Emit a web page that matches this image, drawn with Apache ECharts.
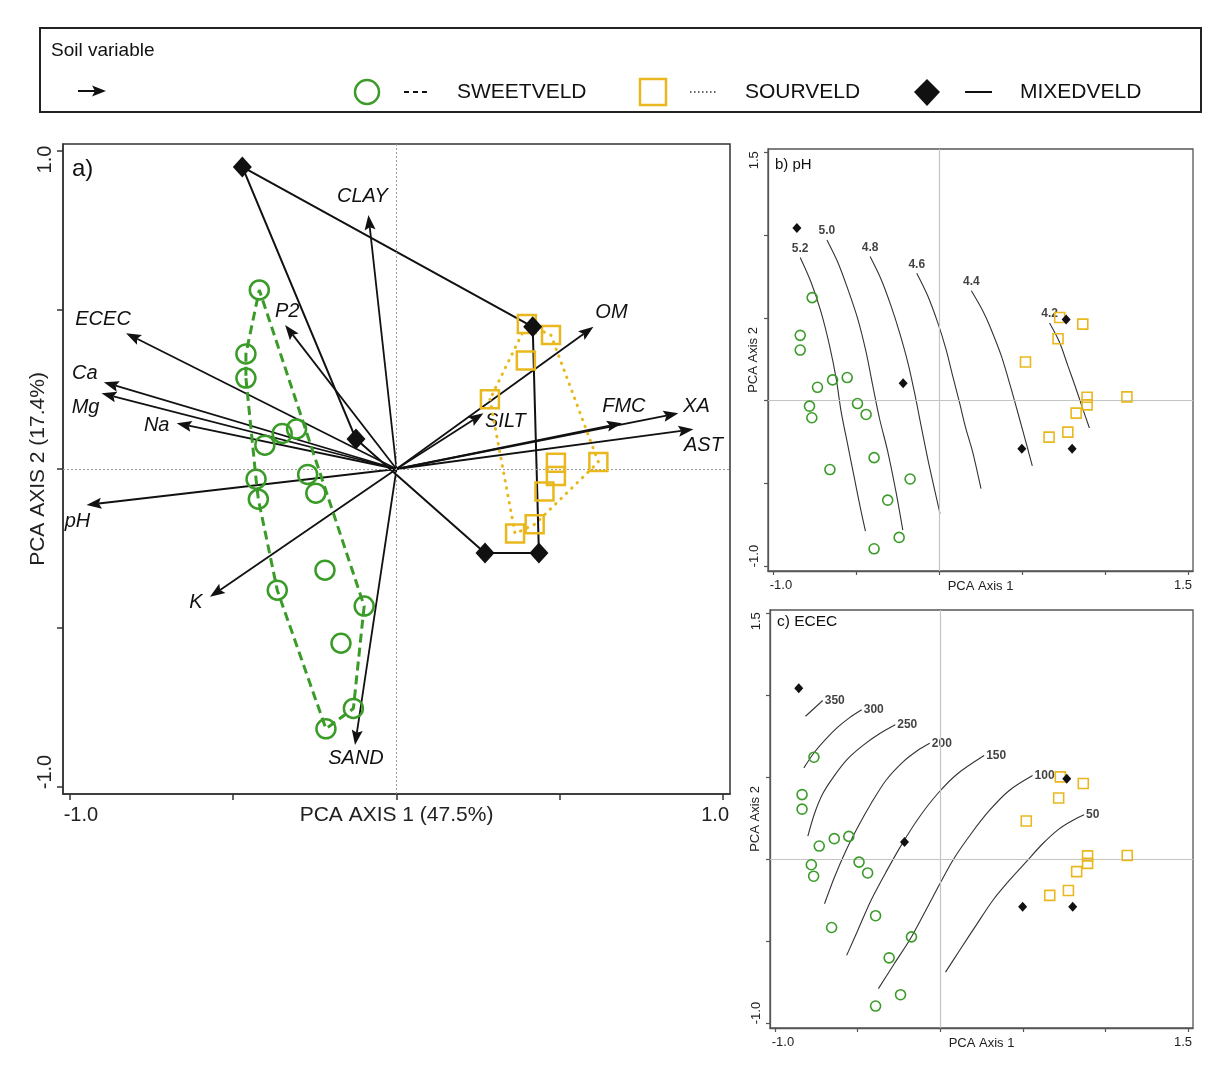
<!DOCTYPE html>
<html><head><meta charset="utf-8">
<script src="https://cdn.jsdelivr.net/npm/echarts@6/dist/echarts.min.js"></script>
<style>html,body{margin:0;padding:0;background:#fff}#c{width:1229px;height:1077px}</style>
</head><body><div id="c"></div>
<script>
// ---------- Panel a: soil variable vectors ----------
const variableNames = ['CLAY','ECEC','P2','Ca','Mg','Na','pH','K','SAND','OM','SILT','FMC','XA','AST'];
const variableAxis1 = [-0.086,-0.828,-0.341,-0.896,-0.903,-0.673,-0.949,-0.571,-0.127,0.603,0.266,0.690,0.863,0.909];
const variableAxis2 = [0.799,0.427,0.453,0.273,0.238,0.144,-0.113,-0.402,-0.868,0.447,0.175,0.144,0.175,0.125];

// ---------- Panel a: site scores ----------
const sweetAxis1 = [-0.420,-0.461,-0.461,-0.306,-0.350,-0.403,-0.430,-0.423,-0.272,-0.247,-0.219,-0.365,-0.099,-0.170,-0.132,-0.216];
const sweetAxis2 = [0.563,0.362,0.286,0.126,0.112,0.075,-0.032,-0.095,-0.017,-0.076,-0.318,-0.381,-0.431,-0.548,-0.753,-0.817];
const sourAxis1 = [0.399,0.473,0.396,0.286,0.618,0.488,0.488,0.453,0.423,0.363];
const sourAxis2 = [0.456,0.421,0.341,0.219,0.022,0.020,-0.022,-0.071,-0.174,-0.203];
const mixedAxis1 = [-0.472,0.417,0.436,0.271,-0.124];
const mixedAxis2 = [0.950,0.447,-0.264,-0.264,0.094];

// ---------- Panels b, c: site scores ----------
const siteSweetAxis1 = [-0.764,-0.836,-0.836,-0.732,-0.641,-0.553,-0.780,-0.766,-0.491,-0.439,-0.391,-0.657,-0.174,-0.309,-0.240,-0.391];
const siteSweetAxis2 = [0.622,0.394,0.305,0.080,0.125,0.139,-0.034,-0.104,-0.018,-0.084,-0.345,-0.417,-0.474,-0.602,-0.827,-0.896];
const siteSourAxis1 = [0.727,0.866,0.717,0.521,0.892,1.132,0.892,0.826,0.776,0.663];
const siteSourAxis2 = [0.502,0.462,0.373,0.233,0.020,0.022,-0.026,-0.076,-0.191,-0.221];
const siteMixedAxis1 = [-0.856,-0.216,0.766,0.499,0.802];
const siteMixedAxis2 = [1.042,0.104,0.490,-0.291,-0.291];

// ---------- Panel b: pH isolines ----------
const phLevels = ['5.2','5.0','4.8','4.6','4.4','4.2'];
const ph52 = [[-0.836,0.864],[-0.770,0.713],[-0.710,0.533],[-0.659,0.331],[-0.619,0.131],[-0.589,-0.070],[-0.549,-0.271],[-0.509,-0.472],[-0.473,-0.652],[-0.443,-0.789]];
const ph50 = [[-0.675,0.970],[-0.609,0.834],[-0.549,0.673],[-0.489,0.492],[-0.439,0.292],[-0.399,0.090],[-0.358,-0.110],[-0.308,-0.311],[-0.259,-0.552],[-0.218,-0.783]];
const ph48 = [[-0.415,0.870],[-0.349,0.733],[-0.289,0.572],[-0.238,0.412],[-0.188,0.231],[-0.148,0.051],[-0.108,-0.151],[-0.068,-0.351],[-0.028,-0.532],[0.006,-0.683]];
const ph46 = [[-0.134,0.769],[-0.068,0.633],[-0.008,0.472],[0.042,0.311],[0.082,0.151],[0.123,-0.010],[0.162,-0.170],[0.203,-0.311],[0.253,-0.532]];
const ph44 = [[0.195,0.663],[0.265,0.540],[0.305,0.452],[0.375,0.271],[0.435,0.070],[0.485,-0.110],[0.529,-0.271],[0.562,-0.395]];
const ph42 = [[0.666,0.468],[0.726,0.352],[0.776,0.211],[0.826,0.070],[0.866,-0.050],[0.906,-0.166]];
const phLines = [ph52, ph50, ph48, ph46, ph44, ph42];

// ---------- Panel c: ECEC isolines ----------
const ececLevels = ['350','300','250','200','150','100','50'];
const ecec350 = [[-0.815,0.872],[-0.711,0.968]];
const ecec300 = [[-0.825,0.557],[-0.761,0.652],[-0.691,0.734],[-0.620,0.805],[-0.550,0.862],[-0.475,0.911]];
const ecec250 = [[-0.801,0.140],[-0.761,0.277],[-0.711,0.399],[-0.640,0.510],[-0.560,0.612],[-0.469,0.693],[-0.368,0.765],[-0.272,0.820]];
const ecec200 = [[-0.700,-0.272],[-0.640,-0.110],[-0.570,0.053],[-0.499,0.195],[-0.419,0.338],[-0.329,0.480],[-0.228,0.591],[-0.137,0.663],[-0.063,0.707]];
const ecec150 = [[-0.566,-0.587],[-0.499,-0.435],[-0.419,-0.252],[-0.328,-0.079],[-0.228,0.098],[-0.127,0.256],[-0.016,0.399],[0.105,0.521],[0.266,0.632]];
const ecec100 = [[-0.374,-0.790],[-0.278,-0.638],[-0.175,-0.476],[-0.045,-0.232],[0.076,-0.008],[0.187,0.155],[0.298,0.297],[0.418,0.419],[0.559,0.510]];
const ecec50 = [[0.032,-0.689],[0.117,-0.557],[0.217,-0.404],[0.318,-0.252],[0.418,-0.130],[0.519,-0.018],[0.620,0.094],[0.720,0.185],[0.801,0.236],[0.871,0.271]];
const ececLines = [ecec350, ecec300, ecec250, ecec200, ecec150, ecec100, ecec50];

// ---------- styling ----------
const GREEN = '#3a9b28', GOLD = '#e9b81e', BLACK = '#111111';
const FONT = '"Liberation Sans", Arial, sans-serif';
// label offsets (px) of vector names relative to arrow tips
const labelOffsets = {CLAY:[-6,-18],ECEC:[-23,-14],P2:[2,-14],Ca:[-19,-9],Mg:[-16,14],Na:[-20,2],pH:[-9,17],K:[-14,6],SAND:[1,13],OM:[18,-14],SILT:[22,8],FMC:[2,-17],XA:[18,-7],AST:[10,16]};

const zip = (a, b) => a.map((v, i) => [v, b[i]]);
function convexHull(xs, ys) {
  const pts = zip(xs, ys).sort((a, b) => a[0] - b[0] || a[1] - b[1]);
  const cross = (o, a, b) => (a[0]-o[0])*(b[1]-o[1]) - (a[1]-o[1])*(b[0]-o[0]);
  const lower = [];
  for (const p of pts) { while (lower.length >= 2 && cross(lower[lower.length-2], lower[lower.length-1], p) <= 0) lower.pop(); lower.push(p); }
  const upper = [];
  for (let i = pts.length - 1; i >= 0; i--) { const p = pts[i]; while (upper.length >= 2 && cross(upper[upper.length-2], upper[upper.length-1], p) <= 0) upper.pop(); upper.push(p); }
  upper.pop(); lower.pop();
  const h = lower.concat(upper); h.push(h[0]); return h;
}

function richLabel(size, pad) {
  return {fontSize: size, fontFamily: FONT, color: '#222', padding: pad};
}

function mainXAxis() {
  return {
    gridIndex: 0, type: 'value', min: -1.021, max: 1.021,
    splitLine: {show: false},
    axisLine: {show: true, onZero: false, lineStyle: {color: '#333', width: 1.5}},
    axisTick: {show: true, length: 6, customValues: [-1, -0.5, 0, 0.5, 1], lineStyle: {color: '#333', width: 1.5}},
    axisLabel: {customValues: [-1, 1], margin: 11,
      formatter: v => v < 0 ? '{l|-1.0}' : '{r|1.0}',
      rich: {l: richLabel(20, [0,0,0,22]), r: richLabel(20, [0,16,0,0])}},
    name: 'PCA AXIS 1 (47.5%)', nameLocation: 'middle', nameGap: 11, nameMoveOverlap: false,
    nameTextStyle: {fontSize: 21, fontFamily: FONT, color: '#222'}
  };
}
function mainYAxis() {
  return {
    gridIndex: 0, type: 'value', min: -1.022, max: 1.022,
    splitLine: {show: false},
    axisLine: {show: true, onZero: false, lineStyle: {color: '#333', width: 1.5}},
    axisTick: {show: true, length: 6, customValues: [-1, -0.5, 0, 0.5, 1], lineStyle: {color: '#333', width: 1.5}},
    axisLabel: {customValues: [-1, 1], margin: 8, rotate: 90,
      formatter: v => v < 0 ? '{b|-1.0}' : '{t|1.0}',
      rich: {b: richLabel(20, [0,0,0,30]), t: richLabel(20, [0,17,0,0])}},
    name: 'PCA AXIS 2 (17.4%)', nameLocation: 'middle', nameGap: 14, nameMoveOverlap: false,
    nameTextStyle: {fontSize: 21, fontFamily: FONT, color: '#222'}
  };
}
function smallXAxis(g) {
  return {
    gridIndex: g, type: 'value', min: -1.03, max: 1.53,
    splitLine: {show: false},
    axisLine: {show: true, onZero: false, lineStyle: {color: '#555', width: 1.3}},
    axisTick: {show: true, length: 4, customValues: [-1, -0.5, 0, 0.5, 1, 1.5], lineStyle: {color: '#555', width: 1.2}},
    axisLabel: {customValues: [-1, 1.5], margin: 8,
      formatter: v => v < 0 ? '{l|-1.0}' : '{r|1.5}',
      rich: {l: richLabel(13, [0,0,0,16]), r: richLabel(13, [0,10,0,0])}},
    name: 'PCA Axis 1', nameLocation: 'middle', nameGap: 9, nameMoveOverlap: false,
    nameTextStyle: {fontSize: 13, fontFamily: FONT, color: '#222'}
  };
}
function smallYAxis(g) {
  return {
    gridIndex: g, type: 'value', min: -1.03, max: 1.52,
    splitLine: {show: false},
    axisLine: {show: true, onZero: false, lineStyle: {color: '#555', width: 1.3}},
    axisTick: {show: true, length: 4, customValues: [-1, -0.5, 0, 0.5, 1, 1.5], lineStyle: {color: '#555', width: 1.2}},
    axisLabel: {customValues: [-1, 1.5], margin: 7, rotate: 90,
      formatter: v => v < 0 ? '{b|-1.0}' : '{t|1.5}',
      rich: {b: richLabel(13, [0,0,0,20]), t: richLabel(13, [0,16,0,0])}},
    name: 'PCA Axis 2', nameLocation: 'middle', nameGap: 8, nameMoveOverlap: false,
    nameTextStyle: {fontSize: 13, fontFamily: FONT, color: '#222'}
  };
}

function siteSeries(g, big) {
  const s = big ? 19 : 10, bw = big ? 2.5 : 1.6;
  return [
    {type: 'scatter', xAxisIndex: g, yAxisIndex: g, silent: true, z: 5,
      data: zip(big ? sweetAxis1 : siteSweetAxis1, big ? sweetAxis2 : siteSweetAxis2),
      symbol: 'circle', symbolSize: s, itemStyle: {color: 'rgba(255,255,255,0)', borderColor: GREEN, borderWidth: bw, opacity: 1}},
    {type: 'scatter', xAxisIndex: g, yAxisIndex: g, silent: true, z: 5,
      data: zip(big ? sourAxis1 : siteSourAxis1, big ? sourAxis2 : siteSourAxis2),
      symbol: 'rect', symbolSize: big ? 18 : 10, itemStyle: {color: 'rgba(255,255,255,0)', borderColor: GOLD, borderWidth: bw, opacity: 1}},
    {type: 'scatter', xAxisIndex: g, yAxisIndex: g, silent: true, z: 6,
      data: zip(big ? mixedAxis1 : siteMixedAxis1, big ? mixedAxis2 : siteMixedAxis2),
      symbol: 'diamond', symbolSize: big ? [19, 21] : [9, 10], itemStyle: {color: BLACK, opacity: 1}}
  ];
}

function contourSeries(g, lines, levels, labelAtEnd) {
  const out = [];
  lines.forEach((ln, k) => {
    out.push({type: 'line', xAxisIndex: g, yAxisIndex: g, silent: true, data: ln,
      smooth: 0.3, symbol: 'none', lineStyle: {color: '#333', width: 1.1}, z: 3,
      markLine: k === 0 ? {silent: true, symbol: 'none', label: {show: false},
        lineStyle: {color: '#c4c4c4', width: 1.2, type: 'solid'}, data: [{xAxis: 0}, {yAxis: 0}]} : undefined});
  });
  out.push({type: 'scatter', xAxisIndex: g, yAxisIndex: g, silent: true, symbolSize: 0, z: 4,
    data: lines.map((ln, k) => ({value: labelAtEnd ? ln[ln.length - 1] : ln[0], name: levels[k]})),
    label: {show: true, formatter: '{b}', position: labelAtEnd ? 'right' : 'top', distance: labelAtEnd ? 2 : 3,
      fontSize: 12, fontWeight: 'bold', fontFamily: FONT, color: '#111'}});
  return out;
}

const arrowSeries = {
  type: 'custom', xAxisIndex: 0, yAxisIndex: 0, silent: true, z: 2,
  data: variableNames.map((n, i) => [variableAxis1[i], variableAxis2[i], i]),
  renderItem: (params, api) => {
    const o = api.coord([0, 0]);
    const t = api.coord([api.value(0), api.value(1)]);
    const name = variableNames[api.value(2)];
    const off = labelOffsets[name];
    const dx = t[0] - o[0], dy = t[1] - o[1];
    const L = Math.hypot(dx, dy), ux = dx / L, uy = dy / L, px = -uy, py = ux;
    const hl = 15, hw = 5.5;
    const bx = t[0] - ux * hl, by = t[1] - uy * hl;
    const nx = t[0] - ux * hl * 0.82, ny = t[1] - uy * hl * 0.82;
    return {type: 'group', children: [
      {type: 'line', shape: {x1: o[0], y1: o[1], x2: nx, y2: ny}, style: {stroke: BLACK, lineWidth: 1.8}},
      {type: 'polygon', shape: {points: [[t[0], t[1]], [bx + px * hw, by + py * hw], [nx, ny], [bx - px * hw, by - py * hw]]}, style: {fill: BLACK}},
      {type: 'text', x: t[0] + off[0], y: t[1] + off[1],
        style: {text: name, fontSize: 20, fontStyle: 'italic', fontFamily: FONT, fill: BLACK, align: 'center', verticalAlign: 'middle'}}
    ]};
  }
};

const hullSeries = [
  {type: 'line', xAxisIndex: 0, yAxisIndex: 0, silent: true, z: 3, data: convexHull(sweetAxis1, sweetAxis2),
    symbol: 'none', lineStyle: {color: GREEN, width: 3, type: [9, 5]},
    markLine: {silent: true, symbol: 'none', label: {show: false}, lineStyle: {color: '#9a9a9a', width: 1, type: [2, 2]}, data: [{xAxis: 0}, {yAxis: 0}]}},
  {type: 'line', xAxisIndex: 0, yAxisIndex: 0, silent: true, z: 3, data: convexHull(sourAxis1, sourAxis2),
    symbol: 'none', lineStyle: {color: GOLD, width: 3, type: [0.5, 7], cap: 'round'}},
  {type: 'line', xAxisIndex: 0, yAxisIndex: 0, silent: true, z: 3, data: convexHull(mixedAxis1, mixedAxis2),
    symbol: 'none', lineStyle: {color: BLACK, width: 2}}
];

const legendY = 92;
const graphics = [
  {type: 'rect', shape: {x: 40, y: 28, width: 1161, height: 84}, style: {fill: 'none', stroke: '#222', lineWidth: 2}},
  {type: 'text', x: 51, y: 51, style: {text: 'Soil variable', fontSize: 19, fontFamily: FONT, fill: '#111', verticalAlign: 'middle'}},
  {type: 'line', shape: {x1: 78, y1: 91, x2: 97, y2: 91}, style: {stroke: BLACK, lineWidth: 2}},
  {type: 'polygon', shape: {points: [[106, 91], [92, 85.5], [95, 91], [92, 96.5]]}, style: {fill: BLACK}},
  {type: 'circle', shape: {cx: 367, cy: legendY, r: 12}, style: {fill: 'none', stroke: GREEN, lineWidth: 2.5}},
  {type: 'line', shape: {x1: 404, y1: legendY, x2: 428, y2: legendY}, style: {stroke: BLACK, lineWidth: 2, lineDash: [5, 4]}},
  {type: 'text', x: 457, y: legendY, style: {text: 'SWEETVELD', fontSize: 21, fontFamily: FONT, fill: '#111', verticalAlign: 'middle'}},
  {type: 'rect', shape: {x: 640, y: 79, width: 26, height: 26}, style: {fill: 'none', stroke: GOLD, lineWidth: 2.5}},
  {type: 'line', shape: {x1: 690, y1: legendY, x2: 716, y2: legendY}, style: {stroke: '#333', lineWidth: 1.5, lineDash: [1.5, 2.5]}},
  {type: 'text', x: 745, y: legendY, style: {text: 'SOURVELD', fontSize: 21, fontFamily: FONT, fill: '#111', verticalAlign: 'middle'}},
  {type: 'polygon', shape: {points: [[927, 79], [940, legendY], [927, 106], [914, legendY]]}, style: {fill: BLACK}},
  {type: 'line', shape: {x1: 965, y1: legendY, x2: 992, y2: legendY}, style: {stroke: BLACK, lineWidth: 2}},
  {type: 'text', x: 1020, y: legendY, style: {text: 'MIXEDVELD', fontSize: 21, fontFamily: FONT, fill: '#111', verticalAlign: 'middle'}},
  {type: 'text', x: 72, y: 169, style: {text: 'a)', fontSize: 24, fontFamily: FONT, fill: '#111', verticalAlign: 'middle'}},
  {type: 'text', x: 775, y: 165, style: {text: 'b) pH', fontSize: 15, fontFamily: FONT, fill: '#111', verticalAlign: 'middle'}},
  {type: 'text', x: 777, y: 622, style: {text: 'c) ECEC', fontSize: 15.5, fontFamily: FONT, fill: '#111', verticalAlign: 'middle'}}
];

const chart = echarts.init(document.getElementById('c'), null, {renderer: 'canvas'});
chart.setOption({
  animation: false,
  backgroundColor: '#ffffff',
  grid: [
    {left: 63, top: 144, width: 667, height: 650, show: true, borderColor: '#333', borderWidth: 1.5, backgroundColor: 'rgba(0,0,0,0)'},
    {left: 768, top: 149, width: 425, height: 422, show: true, borderColor: '#555', borderWidth: 1.3, backgroundColor: 'rgba(0,0,0,0)'},
    {left: 770, top: 610, width: 423, height: 418, show: true, borderColor: '#555', borderWidth: 1.3, backgroundColor: 'rgba(0,0,0,0)'}
  ],
  xAxis: [mainXAxis(), smallXAxis(1), smallXAxis(2)],
  yAxis: [mainYAxis(), smallYAxis(1), smallYAxis(2)],
  graphic: graphics,
  series: [
    ...hullSeries,
    arrowSeries,
    ...siteSeries(0, true),
    ...contourSeries(1, phLines, phLevels, false),
    ...siteSeries(1, false),
    ...contourSeries(2, ececLines, ececLevels, true),
    ...siteSeries(2, false)
  ]
});
</script>
</body></html>
